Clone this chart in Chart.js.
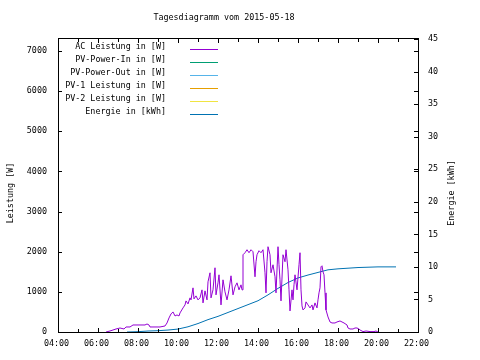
<!DOCTYPE html>
<html lang="de">
<head>
  <meta charset="UTF-8" />
  <title>Tagesdiagramm</title>
  <script src="https://cdn.jsdelivr.net/npm/chart.js"></script>
  <style>
    body { margin: 0; background: #fff; }
    canvas { display: block; }
  </style>
</head>
<body>
  <canvas id="tag" width="480" height="360"></canvas>

  <script>
    // Werte (Zeit in Stunden)
    const acTime = [6.40, 6.60, 6.75, 6.90, 7.10, 7.30, 7.40, 7.60, 7.75, 8.10, 8.35, 8.45, 8.55, 8.60, 8.85, 9.10,
      9.35, 9.45, 9.55, 9.65, 9.75, 9.85, 9.95, 10.05, 10.10, 10.25, 10.35, 10.40, 10.50, 10.60, 10.65, 10.75,
      10.80, 10.90, 11.00, 11.10, 11.20, 11.25, 11.35, 11.45, 11.50, 11.60, 11.65, 11.75, 11.85, 11.90, 12.00,
      12.05, 12.15, 12.25, 12.35, 12.45, 12.55, 12.65, 12.75, 12.85, 12.95, 13.05, 13.15, 13.20, 13.25, 13.35,
      13.45, 13.55, 13.65, 13.75, 13.85, 13.90, 13.95, 14.05, 14.15, 14.25, 14.35, 14.40, 14.45, 14.50, 14.60,
      14.65, 14.75, 14.85, 14.90, 15.00, 15.05, 15.10, 15.15, 15.25, 15.35, 15.40, 15.50, 15.55, 15.60, 15.70,
      15.75, 15.80, 15.85, 15.95, 16.05, 16.10, 16.15, 16.20, 16.25, 16.35, 16.40, 16.50, 16.60, 16.70, 16.75,
      16.85, 16.95, 17.00, 17.05, 17.10, 17.15, 17.20, 17.25, 17.30, 17.35, 17.40, 17.50, 17.60, 17.70, 17.85,
      17.95, 18.10, 18.20, 18.30, 18.45, 18.50, 18.60, 18.75, 18.85, 18.95, 19.05, 19.10, 19.25, 19.40, 19.60,
      19.80, 19.90, 20.00];
    const acWatt = [0, 25, 50, 75, 100, 75, 125, 125, 175, 175, 175, 200, 175, 125, 125, 125,
      150, 225, 350, 450, 500, 400, 425, 400, 475, 600, 675, 775, 700, 850, 800, 1100,
      825, 900, 800, 850, 1050, 725, 1025, 800, 1250, 1475, 850, 1050, 1600, 925, 1225,
      1425, 675, 1300, 1000, 800, 1050, 1400, 925, 1125, 1225, 1050, 1175, 1050, 1925, 1975,
      2050, 1975, 2050, 2000, 1375, 1750, 1925, 2025, 1975, 2050, 1475, 975, 1750, 2125, 1925,
      1475, 1675, 1375, 975, 2125, 1675, 1300, 775, 1925, 1750, 2050, 1550, 1050, 525, 1050,
      800, 1175, 1425, 1050, 1675, 1975, 1050, 650, 550, 600, 750, 675, 600, 675, 550,
      725, 600, 800, 975, 1100, 1625, 1650, 1500, 1425, 975, 550, 375, 250, 225, 225,
      250, 275, 250, 225, 175, 100, 75, 75, 100, 100, 75, 50, 10, 25, 10,
      10, 25, 0];

    const energyTime = [7.45, 8.0, 8.5, 9.0, 9.5, 10.0, 10.5, 11.0, 11.5, 12.0, 12.5, 13.0, 13.5, 14.0,
      14.5, 15.0, 15.5, 16.0, 16.5, 17.0, 17.5, 18.0, 18.5, 19.0, 19.5, 20.0, 20.9];
    const energyKwh = [0, 0.05, 0.15, 0.2, 0.3, 0.45, 0.8, 1.3, 1.9, 2.4, 3.0, 3.6, 4.2, 4.8,
      5.7, 6.7, 7.6, 8.3, 8.75, 9.15, 9.55, 9.7, 9.8, 9.9, 9.95, 10.0, 10.0];

    // keine Werte sichtbar
    const pvInWatt = [];
    const pvOutWatt = [];
    const pv1Watt = [];
    const pv2Watt = [];

    const xTicks = [4, 6, 8, 10, 12, 14, 16, 18, 20, 22];
    const yTicks = [0, 1000, 2000, 3000, 4000, 5000, 6000, 7000];
    const y2Ticks = [0, 5, 10, 15, 20, 25, 30, 35, 40, 45];

    const FONT = '8.4px "DejaVu Sans Mono", monospace';

    function toPoints(xs, ys) {
      return xs.map((x, i) => ({ x: x, y: ys[i] }));
    }

    function hhmm(h) {
      return String(h).padStart(2, '0') + ':00';
    }

    // gnuplot-artige Achsen, Rahmen und Legende
    const gnuplotLook = {
      id: 'gnuplotLook',
      afterDatasetsDraw(chart) {
        const ctx = chart.ctx;
        const a = chart.chartArea;
        const xs = chart.scales.x, ys = chart.scales.y, y2 = chart.scales.y2;
        ctx.save();
        ctx.strokeStyle = '#000';
        ctx.fillStyle = '#000';
        ctx.lineWidth = 1;
        ctx.font = FONT;

        // Rahmen
        ctx.strokeRect(Math.round(a.left) + 0.5, Math.round(a.top) - 0.5,
          Math.round(a.right - a.left), Math.round(a.bottom - a.top) + 1);

        ctx.beginPath();
        for (let h = 4; h <= 22; h++) {
          const px = Math.round(xs.getPixelForValue(h)) + 0.5;
          const len = h % 2 === 0 ? 4 : 3;
          ctx.moveTo(px, a.bottom); ctx.lineTo(px, a.bottom - len);
          ctx.moveTo(px, a.top); ctx.lineTo(px, a.top + len);
        }
        yTicks.forEach(v => {
          const py = Math.round(ys.getPixelForValue(v)) + 0.5;
          ctx.moveTo(a.left, py); ctx.lineTo(a.left + 4, py);
          ctx.moveTo(a.right, py); ctx.lineTo(a.right - 4, py);
        });
        y2Ticks.forEach(v => {
          const py = Math.round(y2.getPixelForValue(v)) + 0.5;
          ctx.moveTo(a.right, py); ctx.lineTo(a.right - 4, py);
        });
        ctx.stroke();

        // Beschriftungen
        ctx.textBaseline = 'middle';
        ctx.textAlign = 'center';
        xTicks.forEach(h => ctx.fillText(hhmm(h), xs.getPixelForValue(h) - 1.5, 344));
        ctx.textAlign = 'right';
        yTicks.forEach(v => ctx.fillText(String(v), 47, ys.getPixelForValue(v)));
        ctx.textAlign = 'left';
        y2Ticks.forEach(v => ctx.fillText(String(v), 428, y2.getPixelForValue(v)));

        ctx.textAlign = 'center';
        ctx.fillText('Tagesdiagramm vom 2015-05-18', 224, 18);

        ctx.save();
        ctx.translate(11, 193);
        ctx.rotate(-Math.PI / 2);
        ctx.fillText('Leistung [W]', 0, 0);
        ctx.restore();
        ctx.save();
        ctx.translate(452, 193);
        ctx.rotate(-Math.PI / 2);
        ctx.fillText('Energie [kWh]', 0, 0);
        ctx.restore();

        // Legende
        chart.data.datasets.forEach((ds, i) => {
          const ty = 47 + i * 12.9;
          ctx.textAlign = 'right';
          ctx.fillStyle = '#000';
          ctx.fillText(ds.label, 166, ty);
          ctx.strokeStyle = ds.borderColor;
          ctx.beginPath();
          const ly = Math.round(ty + 2) + 0.5;
          ctx.moveTo(190, ly); ctx.lineTo(218, ly);
          ctx.stroke();
        });
        ctx.restore();
      }
    };

    new Chart(document.getElementById('tag'), {
      type: 'line',
      data: {
        datasets: [
          { label: 'AC Leistung in [W]', data: toPoints(acTime, acWatt), borderColor: '#9400d3', yAxisID: 'y' },
          { label: 'PV-Power-In in [W]', data: pvInWatt, borderColor: '#009e73', yAxisID: 'y' },
          { label: 'PV-Power-Out in [W]', data: pvOutWatt, borderColor: '#56b4e9', yAxisID: 'y' },
          { label: 'PV-1 Leistung in [W]', data: pv1Watt, borderColor: '#e69f00', yAxisID: 'y' },
          { label: 'PV-2 Leistung in [W]', data: pv2Watt, borderColor: '#f0e442', yAxisID: 'y' },
          { label: 'Energie in [kWh]', data: toPoints(energyTime, energyKwh), borderColor: '#0072b2', yAxisID: 'y2' }
        ]
      },
      options: {
        responsive: false,
        animation: false,
        devicePixelRatio: 1,
        layout: { padding: { left: 58, right: 62, top: 39, bottom: 28 } },
        elements: {
          point: { radius: 0 },
          line: { borderWidth: 1, tension: 0 }
        },
        plugins: {
          legend: { display: false },
          title: { display: false },
          tooltip: { enabled: false }
        },
        scales: {
          x: { type: 'linear', min: 4, max: 22, display: false },
          y: { min: 0, max: 7300, display: false },
          y2: { min: 0, max: 45, display: false, position: 'right' }
        }
      },
      plugins: [gnuplotLook]
    });
  </script>
</body>
</html>
